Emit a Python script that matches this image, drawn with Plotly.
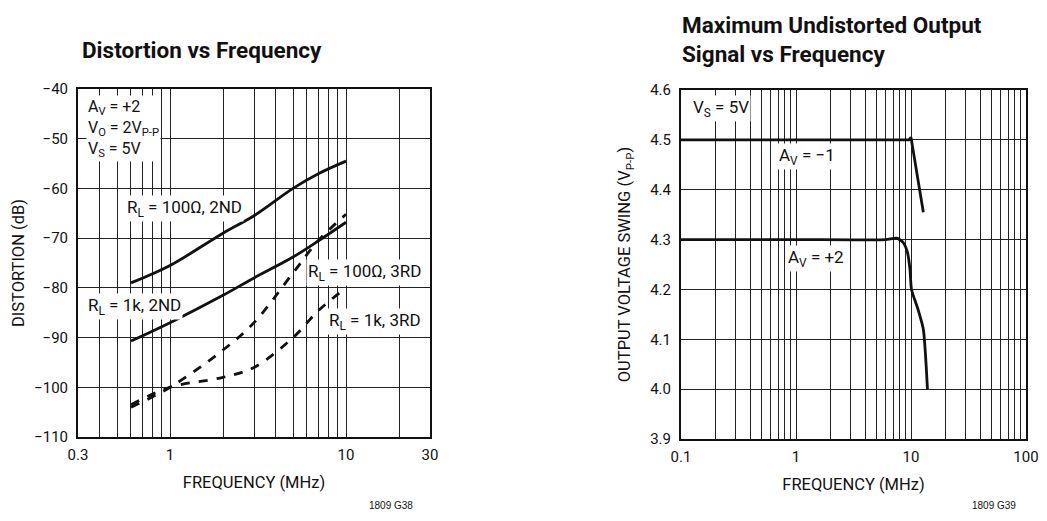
import plotly.graph_objects as go

# left chart: distortion vs frequency
freq_l = [0.6, 1, 2, 3, 5, 7, 10]
hd2_100 = [-79, -75.5, -69, -65.5, -60, -57, -54.5]
hd2_1k = [-90.7, -87, -81.5, -78, -73.8, -70.5, -66.8]
hd3_100 = [-104, -100, -92.5, -87, -77, -70.4, -65.2]
hd3_1k = [-103.5, -100, -98, -96, -90, -84.5, -80]

# right chart: max undistorted output vs frequency
freq_inv = [0.1, 1, 9.6, 10, 12.8]
swing_inv = [4.5, 4.5, 4.5, 4.505, 4.355]
freq_ni = [0.1, 1, 6, 7.5, 8.5, 9.3, 9.8, 10.1, 11.5, 12.8, 13.9]
swing_ni = [4.3, 4.3, 4.3, 4.303, 4.295, 4.275, 4.24, 4.2, 4.16, 4.12, 4.0]

xt_left = [0.3, 1, 10, 30]
xt_right = [0.1, 1, 10, 100]
minor_left = [0.4, 0.5, 0.6, 0.7, 0.8, 0.9, 2, 3, 4, 5, 6, 7, 8, 9, 20]
minor_right = [0.2, 0.3, 0.4, 0.5, 0.6, 0.7, 0.8, 0.9,
               2, 3, 4, 5, 6, 7, 8, 9, 20, 30, 40, 50, 60, 70, 80, 90]

FONT = "Roboto, sans-serif"
INK = "#111"
W, H, OFF = 1031, 505, 8  # page body adds an 8px margin on every side


def px(x):
    return (x - OFF) / W


def py(y):
    return 1 - (y - OFF) / H


fig = go.Figure()
solid = dict(color=INK, width=2.8)
dashed = dict(color=INK, width=2.8, dash="dash")
fig.add_trace(go.Scatter(x=freq_l, y=hd2_100, mode="lines", line=solid, line_shape="spline", xaxis="x", yaxis="y"))
fig.add_trace(go.Scatter(x=freq_l, y=hd2_1k, mode="lines", line=solid, line_shape="spline", xaxis="x", yaxis="y"))
fig.add_trace(go.Scatter(x=freq_l, y=hd3_100, mode="lines", line=dashed, line_shape="spline", xaxis="x", yaxis="y"))
fig.add_trace(go.Scatter(x=freq_l, y=hd3_1k, mode="lines", line=dashed, line_shape="spline", xaxis="x", yaxis="y"))
fig.add_trace(go.Scatter(x=freq_inv, y=swing_inv, mode="lines", line=dict(color=INK, width=2.8), xaxis="x2", yaxis="y2"))
fig.add_trace(go.Scatter(x=freq_ni, y=swing_ni, mode="lines", line=dict(color=INK, width=2.8),
                         line_shape="spline", line_smoothing=0.6, xaxis="x2", yaxis="y2"))

axis_common = dict(showline=True, linecolor=INK, linewidth=2, mirror=True, showgrid=True,
                   gridcolor="#222", gridwidth=1, zeroline=False, ticks="", automargin=False,
                   tickfont=dict(family=FONT, size=15, color=INK),
                   title_font=dict(family=FONT, size=16.5, color=INK))
minor_common = dict(showgrid=True, gridcolor="#222", gridwidth=1, ticks="")

fig.update_layout(
    width=W, height=H, margin=dict(l=0, r=0, t=0, b=0),
    paper_bgcolor="white", plot_bgcolor="white", showlegend=False,
    font=dict(family=FONT, color=INK),
    xaxis=dict(axis_common, type="log", domain=[px(78), px(430)], range=[-0.5229, 1.4771],
               tickvals=xt_left, ticktext=[str(v) for v in xt_left], ticklabelstandoff=3,
               minor=dict(minor_common, tickvals=minor_left),
               title=dict(text="FREQUENCY (MHz)", standoff=13), anchor="y"),
    yaxis=dict(axis_common, domain=[py(437), py(89)], range=[-110, -40], dtick=10, ticklabelstandoff=5,
               title=dict(text="DISTORTION (dB)", standoff=5), anchor="x"),
    xaxis2=dict(axis_common, type="log", domain=[px(681), px(1026)], range=[-1, 2],
                tickvals=xt_right, ticktext=[str(v) for v in xt_right], ticklabelstandoff=3,
                minor=dict(minor_common, tickvals=minor_right),
                title=dict(text="FREQUENCY (MHz)", standoff=13), anchor="y2"),
    yaxis2=dict(axis_common, domain=[py(439), py(90)], range=[3.9, 4.6], dtick=0.1, tickformat=".1f",
                ticklabelstandoff=5,
                title=dict(text="OUTPUT VOLTAGE SWING (V<sub>P-P</sub>)", standoff=15), anchor="x2"),
)

TITLE_FONT = dict(family=FONT, size=22.5, color=INK, weight="bold")
LABEL_FONT = dict(family=FONT, size=17, color=INK)


def label(text, x, y, xref, yref, size=17):
    fig.add_annotation(text=text, x=x, y=y, xref=xref, yref=yref, xanchor="left", yanchor="middle",
                       showarrow=False, bgcolor="white", font=dict(LABEL_FONT, size=size),
                       align="left", borderpad=1)


fig.add_annotation(text="Distortion vs Frequency", x=px(80), y=py(50), xref="paper", yref="paper",
                   xanchor="left", yanchor="middle", showarrow=False, font=TITLE_FONT)
fig.add_annotation(text="Maximum Undistorted Output<br>Signal vs Frequency", x=px(680), y=py(39),
                   xref="paper", yref="paper", xanchor="left", yanchor="middle", showarrow=False,
                   font=TITLE_FONT, align="left")

label("A<sub>V</sub> = +2<br>V<sub>O</sub> = 2V<sub>P-P</sub><br>V<sub>S</sub> = 5V",
      -0.478, -48, "x", "y", size=16)
label("R<sub>L</sub> = 100Ω, 2ND", -0.256, -64, "x", "y")
label("R<sub>L</sub> = 1k, 2ND", -0.478, -83.8, "x", "y")
label("R<sub>L</sub> = 100Ω, 3RD", 0.772, -77, "x", "y")
label("R<sub>L</sub> = 1k, 3RD", 0.892, -86.8, "x", "y")
label("V<sub>S</sub> = 5V", -0.917, 4.563, "x2", "y2")
label("A<sub>V</sub> = −1", -0.165, 4.466, "x2", "y2")
label("A<sub>V</sub> = +2", -0.088, 4.263, "x2", "y2")

for txt, xr in [("1809 G38", px(415)), ("1809 G39", px(1018))]:
    fig.add_annotation(text=txt, x=xr, y=py(505), xref="paper", yref="paper", xanchor="right",
                       yanchor="middle", showarrow=False, font=dict(family="Liberation Sans, Arial", size=10, color=INK))

fig.write_html("out.html")
